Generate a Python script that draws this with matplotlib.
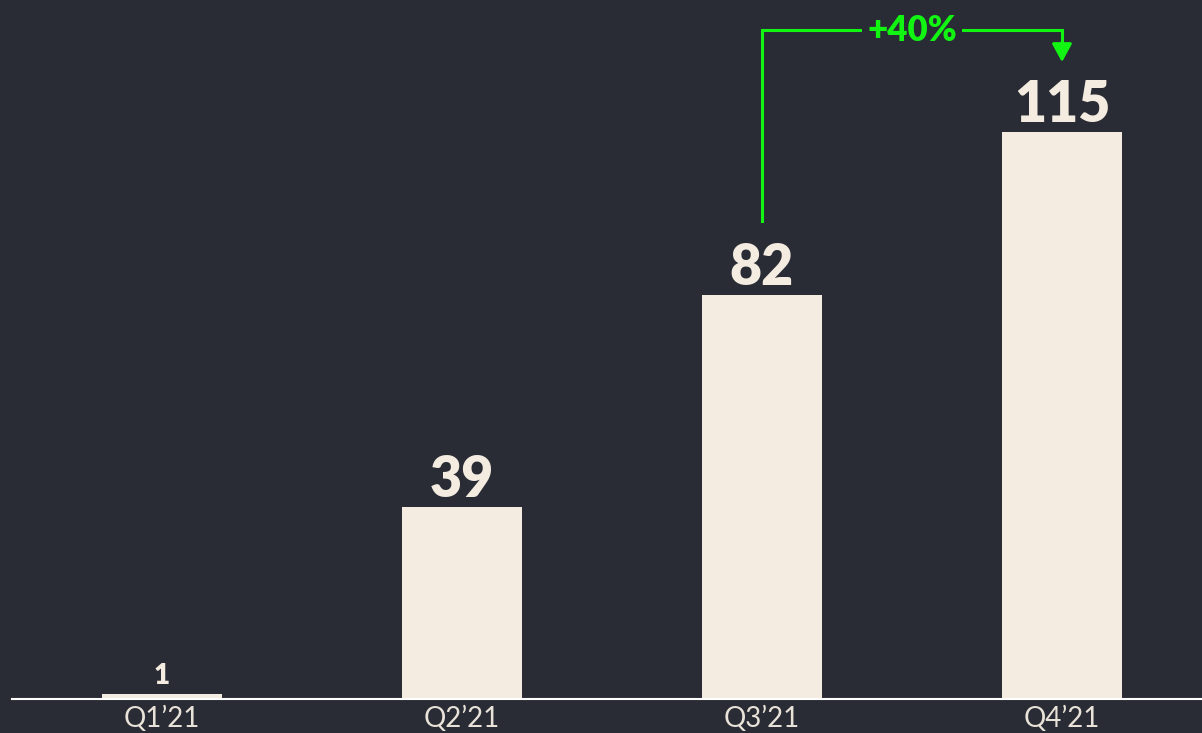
import matplotlib.pyplot as plt

quarters = ["Q1\u201921", "Q2\u201921", "Q3\u201921", "Q4\u201921"]
values = [1, 39, 82, 115]
growth_label = "+40%"

bg = "#292c34"
bar_color = "#f4ece0"
green = "#12f512"

plt.rcParams['font.family'] = ['Lato', 'DejaVu Sans']

fig = plt.figure(figsize=(12.02, 7.33), dpi=100, facecolor=bg)
ax = fig.add_axes([12 / 1202, 34 / 733, 1 - 12 / 1202, 1 - 34 / 733])
ax.set_facecolor(bg)

x = list(range(len(values)))
ax.bar(x, values, width=0.4, color=bar_color, zorder=2)

ax.set_xlim(-0.5, 3.4667)
ax.set_ylim(0, 141.8)

for i, v in enumerate(values):
    size = 20 if v < 10 else 40
    ax.annotate(str(v), (i, v), xytext=(0, 7), textcoords="offset points",
                ha="center", va="baseline", fontsize=size, fontweight="heavy",
                color=bar_color)

# growth bracket between Q3 and Q4
y0 = values[2] + 15
ytop = values[3] + 20.7
ytip = values[3] + 14.2
ax.plot([2, 2, 3, 3], [y0, ytop, ytop, ytip + 2], color=green, lw=2.2,
        solid_joinstyle="miter", zorder=3)
ax.annotate("", xy=(3, ytip), xytext=(3, ytip + 4),
            arrowprops=dict(arrowstyle="-|>,head_length=0.55,head_width=0.3",
                            mutation_scale=20, color=green, lw=2.2,
                            shrinkA=0, shrinkB=0))
ax.text(2.5, ytop, growth_label, ha="center", va="center", fontsize=25,
        fontweight="heavy", color=green, zorder=4,
        bbox=dict(facecolor=bg, edgecolor="none", pad=4))

for s in ["top", "right", "left"]:
    ax.spines[s].set_visible(False)
ax.spines["bottom"].set_color("#ffffff")
ax.spines["bottom"].set_linewidth(1.5)
ax.set_yticks([])
ax.set_xticks(x)
ax.set_xticklabels(quarters, fontsize=20, color="#e8e2d8")
ax.tick_params(axis="x", length=0, pad=5)

fig.savefig("out.png", dpi=100, facecolor=bg)
